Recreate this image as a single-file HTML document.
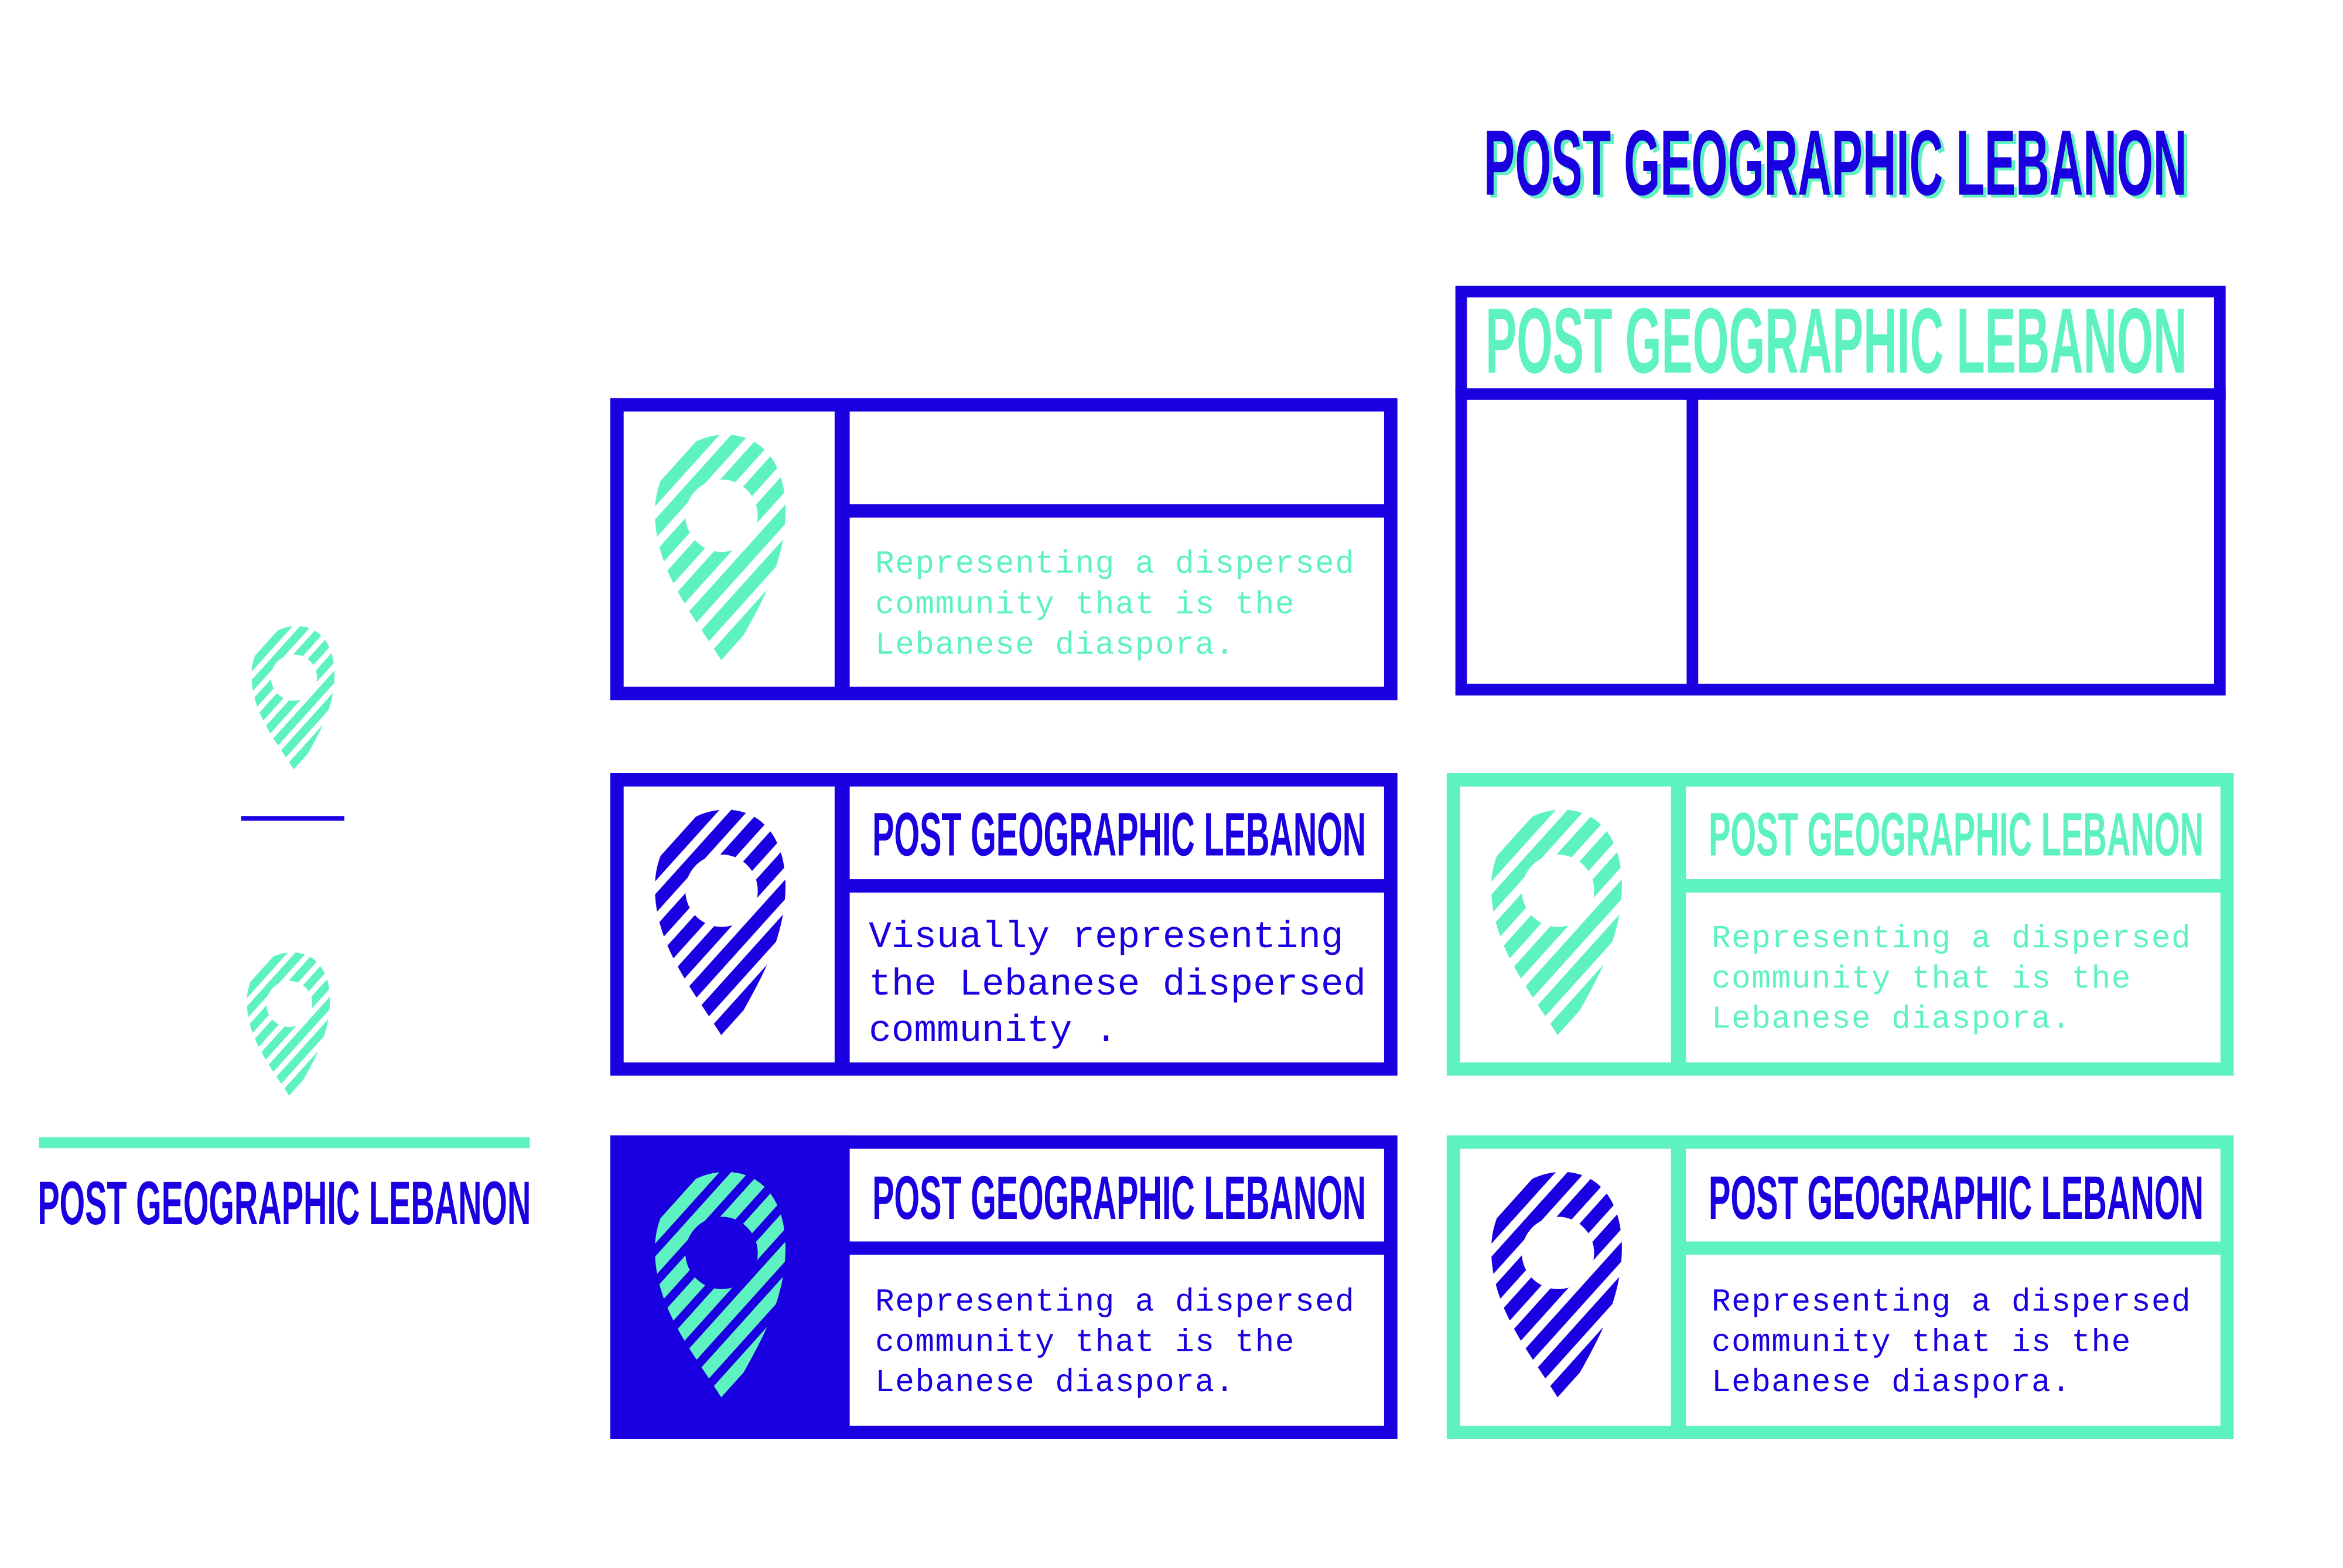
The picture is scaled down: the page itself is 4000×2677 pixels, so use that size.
<!DOCTYPE html>
<html><head><meta charset="utf-8"><style>
html,body{margin:0;padding:0;background:#fff}
svg{display:block}
.h{font-family:"Liberation Sans Narrow","Liberation Sans",sans-serif;font-weight:bold}
.m{font-family:"Liberation Mono",monospace}
.s{letter-spacing:1.5px}
</style></head><body>
<svg width="4000" height="2677" viewBox="0 0 4000 2677" xmlns="http://www.w3.org/2000/svg">
<defs>
<pattern id="sc" width="15" height="15" patternUnits="userSpaceOnUse" patternTransform="rotate(-48)"><rect width="15" height="9" fill="#5ef2c2"/></pattern>
<pattern id="sb" width="15" height="15" patternUnits="userSpaceOnUse" patternTransform="rotate(-48)"><rect width="15" height="9" fill="#1a00e0"/></pattern>
<symbol id="pinC" viewBox="0 0 100 165"><path fill-rule="evenodd" fill="url(#sc)" d="M55 163 C35 130 8 100 6 60 C4 25 28 2 55 2 C82 2 98 25 96 60 C94 100 72 130 55 163 Z M52 58 m-25 0 a25 25 0 1 0 50 0 a25 25 0 1 0 -50 0 Z"/></symbol>
<symbol id="pinB" viewBox="0 0 100 165"><path fill-rule="evenodd" fill="url(#sb)" d="M55 163 C35 130 8 100 6 60 C4 25 28 2 55 2 C82 2 98 25 96 60 C94 100 72 130 55 163 Z M52 58 m-25 0 a25 25 0 1 0 50 0 a25 25 0 1 0 -50 0 Z"/></symbol>
</defs>
<g transform="scale(0.9895)">
<g>
<text class="h" x="2566" y="341" font-size="160" fill="#5ef2c2" textLength="1213" lengthAdjust="spacingAndGlyphs">POST GEOGRAPHIC LEBANON</text>
<text class="h" x="2560" y="336" font-size="160" fill="#1a00e0" textLength="1213" lengthAdjust="spacingAndGlyphs">POST GEOGRAPHIC LEBANON</text>
</g>

<g>
<rect x="2521" y="503" width="1309" height="687" fill="none" stroke="#1a00e0" stroke-width="20"/>
<rect x="2511" y="670" width="1329" height="20" fill="#1a00e0"/>
<rect x="2910" y="680" width="20" height="510" fill="#1a00e0"/>
<text class="h" x="2563" y="643" font-size="160" fill="#5ef2c2" textLength="1210" lengthAdjust="spacingAndGlyphs">POST GEOGRAPHIC LEBANON</text>
</g>

<g>
<rect x="1064.5" y="698.5" width="1335" height="498" fill="none" stroke="#1a00e0" stroke-width="23"/>
<rect x="1440" y="698" width="26" height="500" fill="#1a00e0"/>
<rect x="1453" y="870" width="946" height="23" fill="#1a00e0"/>
<use href="#pinC" x="1115" y="745" width="250" height="412"/>
<text class="m s" font-size="55" fill="#5ef2c2"><tspan x="1510" y="988">Representing a dispersed</tspan><tspan x="1510" y="1058">community that is the</tspan><tspan x="1510" y="1128">Lebanese diaspora.</tspan></text>
</g>

<g>
<rect x="1064.5" y="1345.5" width="1335" height="499" fill="none" stroke="#1a00e0" stroke-width="23"/>
<rect x="1440" y="1345" width="26" height="500" fill="#1a00e0"/>
<rect x="1453" y="1517" width="946" height="23" fill="#1a00e0"/>
<use href="#pinB" x="1115" y="1392" width="250" height="412"/>
<text class="h" x="1505" y="1476" font-size="106" fill="#1a00e0" textLength="852" lengthAdjust="spacingAndGlyphs">POST GEOGRAPHIC LEBANON</text>
<text class="m" font-size="65" fill="#1a00e0"><tspan x="1499" y="1634">Visually representing</tspan><tspan x="1499" y="1716">the Lebanese dispersed</tspan><tspan x="1499" y="1796">community .</tspan></text>
</g>

<g>
<rect x="2507.5" y="1345.5" width="1335" height="499" fill="none" stroke="#5ef2c2" stroke-width="23"/>
<rect x="2883" y="1345" width="26" height="500" fill="#5ef2c2"/>
<rect x="2896" y="1517" width="946" height="23" fill="#5ef2c2"/>
<use href="#pinC" x="2558" y="1392" width="250" height="412"/>
<text class="h" x="2948" y="1476" font-size="106" fill="#5ef2c2" textLength="854" lengthAdjust="spacingAndGlyphs">POST GEOGRAPHIC LEBANON</text>
<text class="m s" font-size="55" fill="#5ef2c2"><tspan x="2953" y="1634">Representing a dispersed</tspan><tspan x="2953" y="1704">community that is the</tspan><tspan x="2953" y="1773">Lebanese diaspora.</tspan></text>
</g>

<g>
<rect x="1053" y="1959" width="413" height="524" fill="#1a00e0"/>
<rect x="1064.5" y="1970.5" width="1335" height="501" fill="none" stroke="#1a00e0" stroke-width="23"/>
<rect x="1453" y="2142" width="946" height="23" fill="#1a00e0"/>
<use href="#pinC" x="1115" y="2017" width="250" height="412"/>
<text class="h" x="1505" y="2103" font-size="106" fill="#1a00e0" textLength="852" lengthAdjust="spacingAndGlyphs">POST GEOGRAPHIC LEBANON</text>
<text class="m s" font-size="55" fill="#1a00e0"><tspan x="1510" y="2261">Representing a dispersed</tspan><tspan x="1510" y="2331">community that is the</tspan><tspan x="1510" y="2400">Lebanese diaspora.</tspan></text>
</g>

<g>
<rect x="2507.5" y="1970.5" width="1335" height="501" fill="none" stroke="#5ef2c2" stroke-width="23"/>
<rect x="2883" y="1970" width="26" height="502" fill="#5ef2c2"/>
<rect x="2896" y="2142" width="946" height="23" fill="#5ef2c2"/>
<use href="#pinB" x="2558" y="2017" width="250" height="412"/>
<text class="h" x="2948" y="2103" font-size="106" fill="#1a00e0" textLength="854" lengthAdjust="spacingAndGlyphs">POST GEOGRAPHIC LEBANON</text>
<text class="m s" font-size="55" fill="#1a00e0"><tspan x="2953" y="2261">Representing a dispersed</tspan><tspan x="2953" y="2331">community that is the</tspan><tspan x="2953" y="2400">Lebanese diaspora.</tspan></text>
</g>

<use href="#pinC" x="424" y="1077" width="160" height="262"/>
<rect x="416" y="1408" width="178" height="8" fill="#1a00e0"/>
<use href="#pinC" x="416" y="1640" width="160" height="262"/>
<rect x="67" y="1962" width="847" height="19" fill="#5ef2c2"/>
<text class="h" x="65" y="2112" font-size="106" fill="#1a00e0" textLength="851" lengthAdjust="spacingAndGlyphs">POST GEOGRAPHIC LEBANON</text>
</g>
</svg>
</body></html>
